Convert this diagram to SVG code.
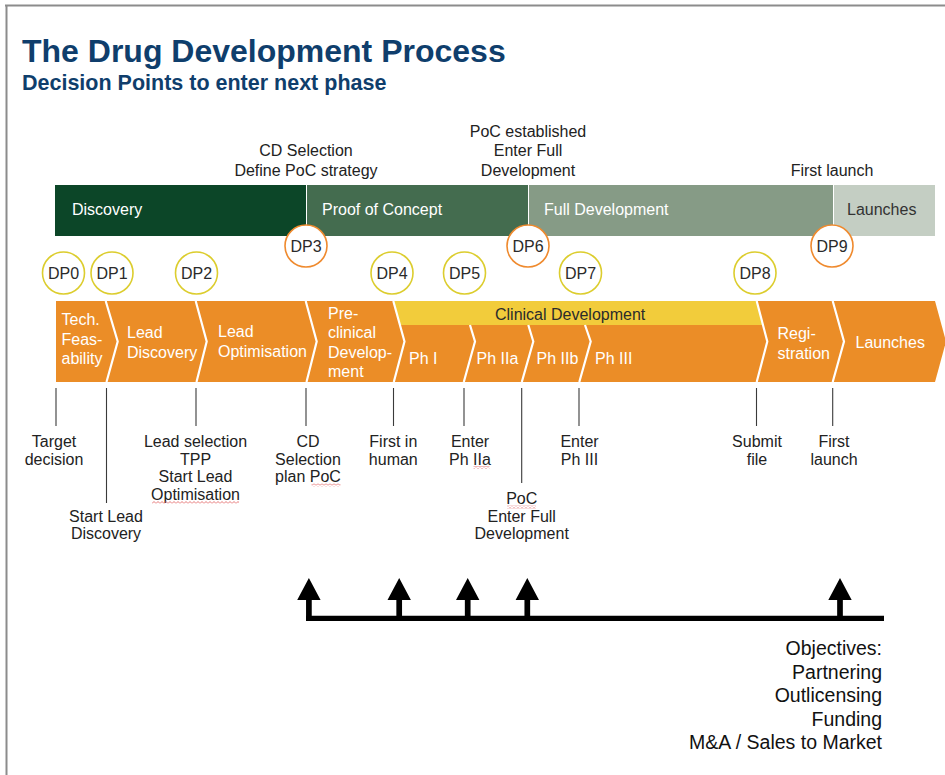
<svg xmlns="http://www.w3.org/2000/svg" width="945" height="775" viewBox="0 0 945 775">
  <defs>
    <style>
      text { font-family: "Liberation Sans", Arial, sans-serif; }
      .title { font-size: 32px; font-weight: bold; fill: #0f3e6c; }
      .subtitle { font-size: 21.5px; font-weight: bold; fill: #0f3e6c; }
      .lbl { font-size: 16px; fill: #222; text-anchor: middle; }
      .bar-txt { font-size: 16px; fill: #ffffff; }
      .chev-txt { font-size: 16px; fill: #ffffff; }
      .dp { fill: #ffffff; stroke-width: 1.6; }
      .dp-gate { stroke: #ef8a2e; }
      .dp-step { stroke: #dccd2e; }
      .dp-txt { font-size: 16px; fill: #2a2a2a; text-anchor: middle; }
      .sep { fill: none; stroke: #ffffff; stroke-width: 2.2; stroke-linejoin: miter; }
      .tick { stroke: #3a3a3a; stroke-width: 1.1; }
      .obj { font-size: 19.5px; fill: #111; text-anchor: end; }
    </style>
    <pattern id="squiggle" width="4" height="3" patternUnits="userSpaceOnUse">
      <path d="M0 2.5 L2 0.5 L4 2.5" fill="none" stroke="#e05555" stroke-width="0.8"/>
    </pattern>
    <path id="up-arrow" d="M-2.85 40 V22 H-11.7 L0 0 L11.7 22 H2.85 V40 Z" fill="#000"/>
  </defs>

  <!-- page frame -->
  <line x1="5" y1="5.5" x2="945" y2="5.5" stroke="#8c8c8c" stroke-width="2"/>
  <line x1="6.5" y1="5" x2="6.5" y2="775" stroke="#8c8c8c" stroke-width="2"/>

  <!-- heading -->
  <text class="title" x="22" y="62">The Drug Development Process</text>
  <text class="subtitle" x="22" y="90">Decision Points to enter next phase</text>

  <!-- decision texts above the phase bar -->
  <g id="top-labels">
    <text class="lbl" x="306" y="156">CD Selection</text>
    <text class="lbl" x="306" y="175.5">Define PoC strategy</text>
    <text class="lbl" x="528" y="136.5">PoC established</text>
    <text class="lbl" x="528" y="156">Enter Full</text>
    <text class="lbl" x="528" y="175.5">Development</text>
    <text class="lbl" x="832" y="175.5">First launch</text>
  </g>

  <!-- phase bar -->
  <g id="phase-discovery">
    <rect x="55" y="185" width="251" height="51" fill="#0c4628"/>
    <text class="bar-txt" x="72" y="215">Discovery</text>
  </g>
  <g id="phase-poc">
    <rect x="307" y="185" width="221" height="51" fill="#446c4f"/>
    <text class="bar-txt" x="322" y="215">Proof of Concept</text>
  </g>
  <g id="phase-full">
    <rect x="529" y="185" width="304" height="51" fill="#869b86"/>
    <text class="bar-txt" x="544" y="215">Full Development</text>
  </g>
  <g id="phase-launches">
    <rect x="834" y="185" width="101" height="51" fill="#c4cec3"/>
    <text class="bar-txt" x="847" y="215" style="fill:#333">Launches</text>
  </g>

  <!-- stage chevrons -->
  <g id="stages">
    <polygon points="56,301 935,301 946,341.5 935,382 56,382" fill="#eb8d27"/>
    <polygon id="clinical-band" points="393.3,301 756.7,301 763,325 400,325" fill="#f2cc3b"/>
    <polyline class="sep" points="105.7,301 117.7,341.5 106.5,382"/>
    <polyline class="sep" points="195.7,301 206.7,341.5 196.5,382"/>
    <polyline class="sep" points="305.7,301 316.7,341.5 306.5,382"/>
    <polyline class="sep" points="393.3,301 404.5,341.5 393.8,382"/>
    <polyline class="sep" points="470,325 475,341.5 463.8,382"/>
    <polyline class="sep" points="528.3,325 533.3,341.5 521.8,382"/>
    <polyline class="sep" points="585,325 590.7,341.5 579.3,382"/>
    <polyline class="sep" points="756.7,301 767.3,341.5 756.7,382"/>
    <polyline class="sep" points="832.7,301 844,341.5 832.7,382"/>

    <text class="chev-txt" x="61.5" y="325">Tech.</text>
    <text class="chev-txt" x="61.5" y="345">Feas-</text>
    <text class="chev-txt" x="61.5" y="364">ability</text>
    <text class="chev-txt" x="127" y="338">Lead</text>
    <text class="chev-txt" x="127" y="357.5">Discovery</text>
    <text class="chev-txt" x="218" y="337">Lead</text>
    <text class="chev-txt" x="218" y="356.5">Optimisation</text>
    <text class="chev-txt" x="328" y="318.5">Pre-</text>
    <text class="chev-txt" x="328" y="338">clinical</text>
    <text class="chev-txt" x="328" y="357.5">Develop-</text>
    <text class="chev-txt" x="328" y="376.5">ment</text>
    <text x="495" y="319.5" style="font-size:16px;fill:#2b2b2b">Clinical Development</text>
    <text class="chev-txt" x="409" y="364">Ph I</text>
    <text class="chev-txt" x="476.5" y="364">Ph IIa</text>
    <text class="chev-txt" x="536.5" y="364">Ph IIb</text>
    <text class="chev-txt" x="595" y="364">Ph III</text>
    <text class="chev-txt" x="777.5" y="339">Regi-</text>
    <text class="chev-txt" x="777.5" y="358.5">stration</text>
    <text class="chev-txt" x="855.5" y="348">Launches</text>
  </g>

  <!-- decision points -->
  <g id="DP0"><circle class="dp dp-step" cx="63.5" cy="273" r="21"/><text class="dp-txt" x="63.5" y="279">DP0</text></g>
  <g id="DP1"><circle class="dp dp-step" cx="112" cy="273" r="21"/><text class="dp-txt" x="112" y="279">DP1</text></g>
  <g id="DP2"><circle class="dp dp-step" cx="196.5" cy="273" r="21"/><text class="dp-txt" x="196.5" y="279">DP2</text></g>
  <g id="DP3"><circle class="dp dp-gate" cx="306" cy="246" r="21"/><text class="dp-txt" x="306" y="252">DP3</text></g>
  <g id="DP4"><circle class="dp dp-step" cx="392" cy="273" r="21"/><text class="dp-txt" x="392" y="279">DP4</text></g>
  <g id="DP5"><circle class="dp dp-step" cx="464.5" cy="273" r="21"/><text class="dp-txt" x="464.5" y="279">DP5</text></g>
  <g id="DP6"><circle class="dp dp-gate" cx="528" cy="246" r="21"/><text class="dp-txt" x="528" y="252">DP6</text></g>
  <g id="DP7"><circle class="dp dp-step" cx="580.5" cy="273" r="21"/><text class="dp-txt" x="580.5" y="279">DP7</text></g>
  <g id="DP8"><circle class="dp dp-step" cx="755" cy="273" r="21"/><text class="dp-txt" x="755" y="279">DP8</text></g>
  <g id="DP9"><circle class="dp dp-gate" cx="832" cy="246" r="21"/><text class="dp-txt" x="832" y="252">DP9</text></g>

  <!-- milestone ticks under the stages -->
  <g id="connectors">
    <line class="tick" x1="56" y1="388" x2="56" y2="426"/>
    <line class="tick" x1="106.5" y1="388" x2="106.5" y2="503"/>
    <line class="tick" x1="196" y1="388" x2="196" y2="426"/>
    <line class="tick" x1="306" y1="388" x2="306" y2="426"/>
    <line class="tick" x1="393.5" y1="388" x2="393.5" y2="426"/>
    <line class="tick" x1="464" y1="388" x2="464" y2="426"/>
    <line class="tick" x1="521.7" y1="388" x2="521.7" y2="483"/>
    <line class="tick" x1="579" y1="388" x2="579" y2="426"/>
    <line class="tick" x1="756.5" y1="388" x2="756.5" y2="426"/>
    <line class="tick" x1="832.7" y1="388" x2="832.7" y2="426"/>

    <!-- objectives timeline -->
    <line x1="306" y1="618.3" x2="884" y2="618.3" stroke="#000" stroke-width="5.3"/>
    <use href="#up-arrow" x="308.9" y="578"/>
    <use href="#up-arrow" x="399.2" y="578"/>
    <use href="#up-arrow" x="467.7" y="578"/>
    <use href="#up-arrow" x="527.3" y="578"/>
    <use href="#up-arrow" x="840" y="578"/>
  </g>

  <!-- milestone texts -->
  <g id="milestones">
    <text class="lbl" x="54" y="447">Target</text>
    <text class="lbl" x="54" y="464.5">decision</text>
    <text class="lbl" x="106" y="521.5">Start Lead</text>
    <text class="lbl" x="106" y="539">Discovery</text>
    <text class="lbl" x="195.5" y="447">Lead selection</text>
    <text class="lbl" x="195.5" y="464.5">TPP</text>
    <text class="lbl" x="195.5" y="482">Start Lead</text>
    <text class="lbl" x="195.5" y="499.5">Optimisation</text>
    <text class="lbl" x="308" y="447">CD</text>
    <text class="lbl" x="308" y="464.5">Selection</text>
    <text class="lbl" x="308" y="482">plan PoC</text>
    <text class="lbl" x="393.3" y="447">First in</text>
    <text class="lbl" x="393.3" y="464.5">human</text>
    <text class="lbl" x="470" y="447">Enter</text>
    <text class="lbl" x="470" y="464.5">Ph IIa</text>
    <text class="lbl" x="521.7" y="504">PoC</text>
    <text class="lbl" x="521.7" y="521.5">Enter Full</text>
    <text class="lbl" x="521.7" y="539">Development</text>
    <text class="lbl" x="579.5" y="447">Enter</text>
    <text class="lbl" x="579.5" y="464.5">Ph III</text>
    <text class="lbl" x="757" y="447">Submit</text>
    <text class="lbl" x="757" y="464.5">file</text>
    <text class="lbl" x="834" y="447">First</text>
    <text class="lbl" x="834" y="464.5">launch</text>

    <!-- spell-check marks -->
    <rect x="311.5" y="483.5" width="29" height="3" fill="url(#squiggle)"/>
    <rect x="152" y="501" width="87" height="3" fill="url(#squiggle)"/>
    <rect x="473.5" y="466" width="16" height="3" fill="url(#squiggle)"/>
    <rect x="507" y="505.5" width="29" height="3" fill="url(#squiggle)"/>
  </g>

  <!-- objectives -->
  <g id="objectives">
    <text class="obj" x="882" y="655">Objectives:</text>
    <text class="obj" x="882" y="678.5">Partnering</text>
    <text class="obj" x="882" y="702">Outlicensing</text>
    <text class="obj" x="882" y="725.5">Funding</text>
    <text class="obj" x="882" y="749">M&amp;A / Sales to Market</text>
  </g>
</svg>
